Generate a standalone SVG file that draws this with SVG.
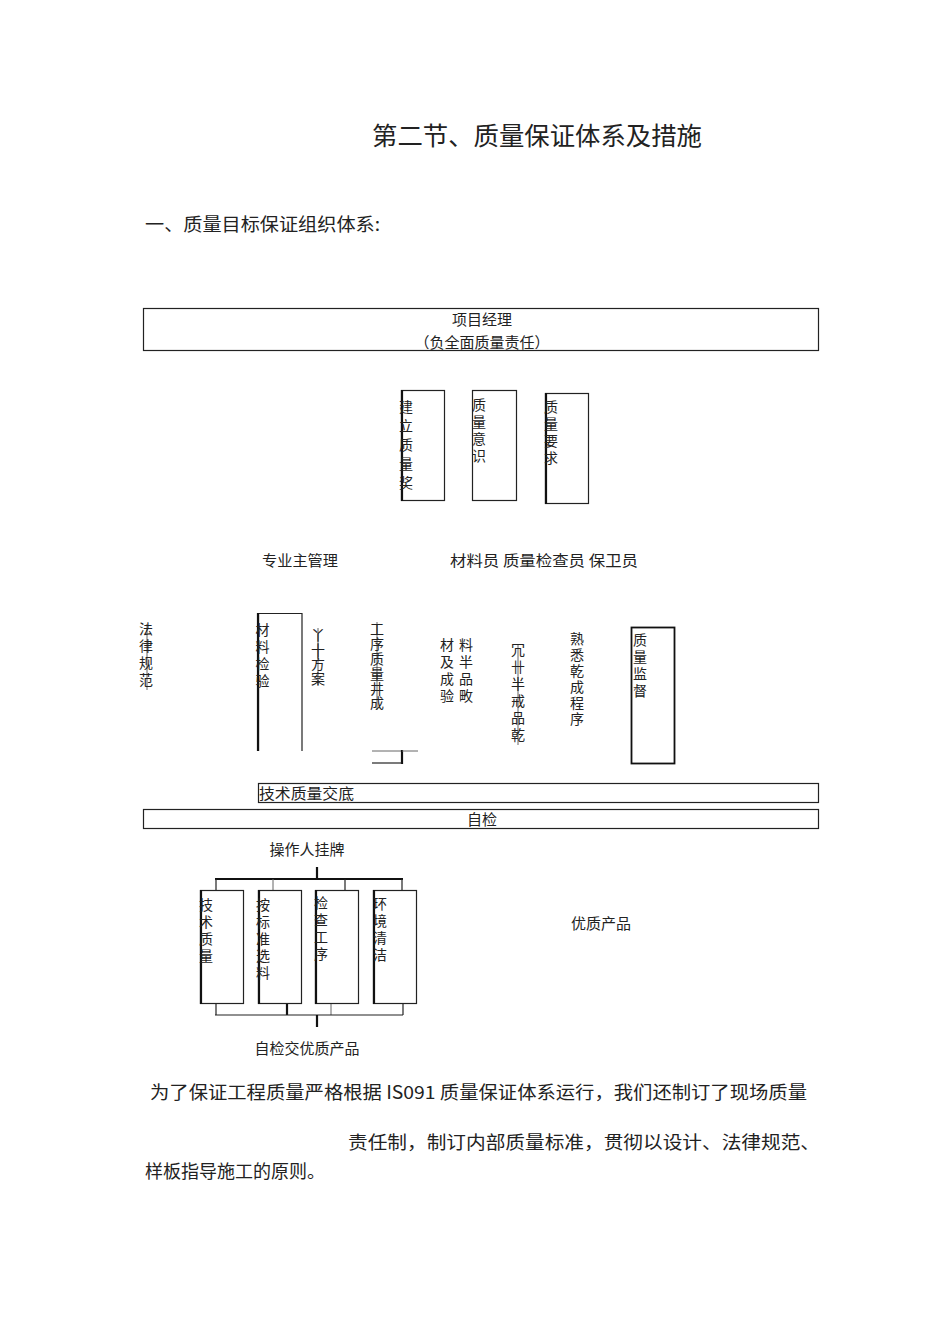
<svg xmlns="http://www.w3.org/2000/svg" width="950" height="1344" viewBox="0 0 950 1344">
<style>
text{font-family:"Noto Sans CJK SC","Liberation Sans",sans-serif;fill:#222;}
.t15{font-size:15px;}
.v{font-size:14px;writing-mode:tb;letter-spacing:3px;}
.box{fill:none;stroke:#222;stroke-width:1.2;}
.thick{stroke:#111;stroke-width:2.2;fill:none;}
.ln{stroke:#222;stroke-width:1.2;fill:none;}
.gl{stroke:#666;stroke-width:1;fill:none;}
</style>
<rect width="950" height="1344" fill="#fff"/>
<text x="372" y="145" style="font-size:25px" textLength="330" lengthAdjust="spacingAndGlyphs">第二节、质量保证体系及措施</text>
<text x="145" y="231" style="font-size:18px" textLength="235" lengthAdjust="spacingAndGlyphs">一、质量目标保证组织体系:</text>

<g id="manager">
<rect class="box" x="143.5" y="308.5" width="675" height="42"/>
<text class="t15" x="482" y="325" text-anchor="middle">项目经理</text>
<text class="t15" x="482" y="348" text-anchor="middle">（负全面质量责任）</text>
</g>

<g id="n-jianli">
<rect class="box" x="401.5" y="390.5" width="43" height="110"/>
<line class="thick" x1="402" y1="390" x2="402" y2="501"/>
<text class="v" x="406" y="400" style="letter-spacing:5px">建立质量奖</text>
</g>
<g id="n-yishi">
<rect class="box" x="472.5" y="390.5" width="44" height="110"/>
<text class="v" x="479" y="398">质量意识</text>
</g>
<g id="n-yaoqiu">
<rect class="box" x="545.5" y="393.5" width="43" height="110"/>
<line class="thick" x1="546" y1="393" x2="546" y2="504"/>
<text class="v" x="551" y="400">质量要求</text>
</g>

<g id="roles">
<text class="t15" x="262" y="566" textLength="76" lengthAdjust="spacingAndGlyphs">专业主管理</text>
<text class="t15" x="450" y="566" textLength="188" lengthAdjust="spacingAndGlyphs">材料员 质量检查员 保卫员</text>
</g>

<g id="connectors">
<line class="gl" x1="147" y1="624" x2="147" y2="690"/>
<line class="gl" x1="318" y1="628" x2="318" y2="685"/>
<line class="gl" x1="377" y1="622" x2="377" y2="710"/>
<line class="gl" x1="518" y1="645" x2="518" y2="745"/>
<line class="gl" x1="372" y1="751" x2="401" y2="751"/>
<line class="thick" x1="402" y1="750" x2="402" y2="764"/>
<line class="ln" x1="372" y1="763" x2="402" y2="763"/>
<line class="gl" x1="402" y1="751" x2="418" y2="751"/>
<line class="thick" x1="317" y1="867" x2="317" y2="879"/>
<line class="thick" x1="215" y1="879" x2="403" y2="879"/>
<line class="ln" x1="216" y1="879" x2="216" y2="890"/>
<line class="gl" x1="273" y1="879" x2="273" y2="890"/>
<line class="ln" x1="345" y1="879" x2="345" y2="890"/>
<line class="ln" x1="402" y1="879" x2="402" y2="890"/>
<line class="ln" x1="216" y1="1004" x2="216" y2="1015"/>
<line class="thick" x1="287" y1="1004" x2="287" y2="1015"/>
<line class="gl" x1="331" y1="1004" x2="331" y2="1015"/>
<line class="ln" x1="403" y1="1004" x2="403" y2="1015"/>
<line class="ln" x1="215" y1="1015" x2="403" y2="1015"/>
<line class="thick" x1="317" y1="1015" x2="317" y2="1027"/>
</g>

<g id="n-falv">
<text class="v" x="146" y="622">法律规范</text>
</g>
<g id="n-cailiao">
<path class="ln" d="M258.5 751 V613.5 H302 V751"/>
<line class="thick" x1="258" y1="613" x2="258" y2="751"/>
<text class="v" x="262.5" y="623">材料检验</text>
</g>
<g id="n-fangan">
<text class="v" x="318" y="628" style="letter-spacing:0.5px">丫十方案</text>
</g>
<g id="n-gongxu">
<text class="v" x="377" y="622" style="letter-spacing:0.8px">工序质量井成</text>
</g>
<g id="n-caiji">
<text class="v" x="447" y="638">材及成验</text>
<text class="v" x="466" y="638">料半品畋</text>
</g>
<g id="n-banchengpin">
<text class="v" x="518" y="643">冗卄半戒品乾</text>
</g>
<g id="n-shuxi">
<text class="v" x="577" y="632" style="letter-spacing:2px">熟悉乾成程序</text>
</g>
<g id="n-jiandu">
<rect class="thick" x="631.5" y="627.5" width="43" height="136" style="stroke-width:1.8"/>
<text class="v" x="640" y="633">质量监督</text>
</g>

<g id="n-jiaodi">
<rect class="box" x="258.5" y="783.5" width="560" height="19"/>
<text class="t15" x="259" y="799" textLength="95" lengthAdjust="spacingAndGlyphs">技术质量交底</text>
</g>
<g id="n-zijian">
<rect class="box" x="143.5" y="809.5" width="675" height="19"/>
<text class="t15" x="482" y="825" text-anchor="middle">自检</text>
</g>

<g id="n-guapai">
<text class="t15" x="307" y="855" text-anchor="middle">操作人挂牌</text>
</g>
<g id="n-jishu">
<rect class="box" x="200.5" y="890.5" width="43" height="113"/>
<line class="thick" x1="201" y1="890" x2="201" y2="1004"/>
<text class="v" x="206" y="898">技术质量</text>
</g>
<g id="n-xuanliao">
<rect class="box" x="258.5" y="890.5" width="43" height="113"/>
<line class="thick" x1="259" y1="890" x2="259" y2="1004"/>
<text class="v" x="263" y="898">按标准选料</text>
</g>
<g id="n-jiancha">
<rect class="box" x="315.5" y="890.5" width="43" height="113"/>
<line class="thick" x1="316" y1="890" x2="316" y2="1004"/>
<text class="v" x="321" y="896">检查工序</text>
</g>
<g id="n-huanjing">
<rect class="box" x="373.5" y="890.5" width="43" height="113"/>
<line class="thick" x1="374" y1="890" x2="374" y2="1004"/>
<text class="v" x="380" y="897">环境清洁</text>
</g>
<g id="n-youzhi">
<text class="t15" x="571" y="929">优质产品</text>
</g>
<g id="n-zijianjiao">
<text class="t15" x="307" y="1054" text-anchor="middle">自检交优质产品</text>
</g>

<g id="paragraph">
<text x="150" y="1099" style="font-size:18px" textLength="657" lengthAdjust="spacingAndGlyphs">为了保证工程质量严格根据 IS091 质量保证体系运行，我们还制订了现场质量</text>
<text x="348" y="1149" style="font-size:18px" textLength="472" lengthAdjust="spacingAndGlyphs">责任制，制订内部质量标准，贯彻以设计、法律规范、</text>
<text x="145" y="1178" style="font-size:18px">样板指导施工的原则。</text>
</g>
</svg>
